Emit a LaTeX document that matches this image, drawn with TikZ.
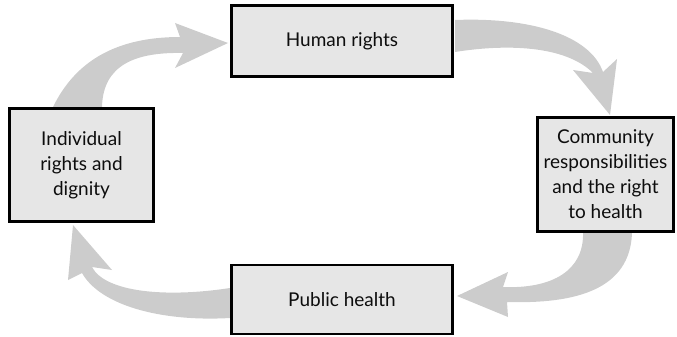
\documentclass[tikz,border=0pt]{standalone}
\usepackage{fontspec}
\setmainfont{Lato}
\usetikzlibrary{backgrounds}
\begin{document}
\begin{tikzpicture}[x=1pt,y=-1pt,
  box/.style={draw=black, line width=2.6pt, fill=boxgray, align=center,
    inner sep=0pt, font=\fontsize{19}{25}\selectfont, text=black!95},
  flow/.style={fill=arrowgray, draw=none}]
\definecolor{boxgray}{HTML}{E6E6E6}
\definecolor{arrowgray}{HTML}{CCCCCC}
\useasboundingbox (0,0) rectangle (677,337);

% the four stages of the cycle
\node[box, minimum width=221pt, minimum height=71pt] (hr) at (342,41) {Human rights};
\node[box, minimum width=144pt, minimum height=113pt] (ind) at (81.5,165) {Individual\\rights and\\dignity};
\node[box, minimum width=136pt, minimum height=114pt] (com) at (605.5,174.5) {Community\\responsibilities\\and the right\\to health};
\node[box, minimum width=221pt, minimum height=69pt] (ph) at (342,299.5) {Public health};

% broad curved arrows linking the stages, kept behind the boxes
\begin{scope}[on background layer]
\fill[flow] (53,107) .. controls (75,62) and (115,37) .. (180,37)
  -- (175,23) -- (228,43) -- (175,68) -- (183,53)
  .. controls (135,52) and (103,65) .. (102,107) -- cycle;
\fill[flow] (455,20) .. controls (530,17) and (590,35) .. (603,72)
  -- (617,59) -- (610,115) -- (573,70) -- (593,73)
  .. controls (565,45) and (505,44) .. (455,52) -- cycle;
\fill[flow] (632,233) .. controls (630,290) and (575,304) .. (507,302)
  -- (508,317) -- (457,296) -- (508,272) -- (503,287)
  .. controls (553,289) and (584,270) .. (583,233) -- cycle;
\fill[flow] (230,318) .. controls (160,322) and (100,305) .. (82,273)
  -- (68,280) -- (73,225) -- (112,270) -- (92,267)
  .. controls (105,292) and (165,298) .. (230,288) -- cycle;
\end{scope}
\end{tikzpicture}
\end{document}
